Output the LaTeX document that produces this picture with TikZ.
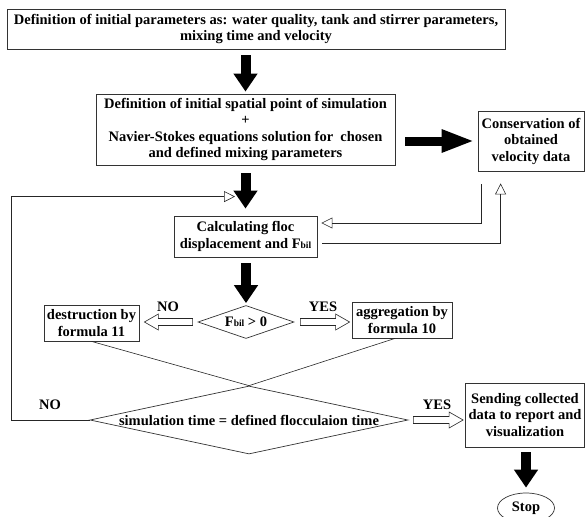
\documentclass[tikz,border=0pt]{standalone}
\usepackage{fontspec}
\setmainfont{Liberation Serif}
\usetikzlibrary{arrows.meta,shapes.geometric,calc}
\newcommand{\Fbil}{F{\fontsize{9.5}{9.5}\selectfont bil}}
% outlined block arrow between two points (horizontal)
\newcommand{\hollowarrow}[2]{%
  \draw[thinline, fill=white] let \p1=(#1), \p2=(#2), \n1={14*(\x2-\x1)/abs(\x2-\x1)} in
    (\x1,{\y1+3.5pt}) -- ({\x2-(\n1)*1pt},{\y1+3.5pt}) -- ({\x2-(\n1)*1pt},{\y1+8pt})
    -- (\x2,\y1) -- ({\x2-(\n1)*1pt},{\y1-8pt}) -- ({\x2-(\n1)*1pt},{\y1-3.5pt})
    -- (\x1,{\y1-3.5pt}) -- cycle;}
\begin{document}
\begin{tikzpicture}[x=1pt, y=-1pt,
  txt/.style={font=\bfseries\fontsize{14.5}{16.5}\selectfont},
  box/.style={txt, draw=black!80, line width=0.8pt, align=center, inner sep=0pt},
  cond/.style={txt, draw=black!80, line width=0.7pt, diamond, inner sep=-3pt},
  thinline/.style={line width=0.6pt, draw=black!85},
  opentip/.style={thinline, -{Triangle[open,length=11pt,width=11pt]}},
  bigarrow/.style={line width=10pt, -{Triangle[length=18pt,width=23pt]}},
  widearrow/.style={line width=9pt, -{Triangle[length=33pt,width=21pt]}}]
  \useasboundingbox (0,0) rectangle (585,516);
  % boxes
  \node[box, minimum width=498pt, minimum height=40pt] (top) at (256,29)
    {Definition of initial parameters as: water quality, tank and stirrer parameters,\\mixing time and velocity};
  \node[box, minimum width=299pt, minimum height=71pt] (def) at (245.5,129.5)
    {Definition of initial spatial point of simulation\\+\\Navier-Stokes equations solution for \ chosen\\and defined mixing parameters};
  \node[box, minimum width=106pt, minimum height=60pt] (cons) at (531,141)
    {Conservation of\\obtained\\velocity data};
  \node[box, minimum width=143pt, minimum height=41pt] (calc) at (245.5,236.5)
    {Calculating floc\\displacement and \Fbil};
  \node[cond, aspect=2.9, minimum width=96pt, minimum height=33pt] (dec1) at (246,322) {\Fbil{} > 0};
  \node[box, minimum width=95pt, minimum height=36pt] (des) at (91.5,323) {destruction by\\formula 11};
  \node[box, minimum width=100pt, minimum height=36pt] (agg) at (402,320) {aggregation by\\formula 10};
  \node[cond, aspect=4.68, minimum width=318pt, minimum height=68pt] (dec2) at (249,420)
    {simulation time = defined flocculaion time};
  \node[box, minimum width=119pt, minimum height=64pt] (send) at (525,415)
    {Sending collected\\data to report and\\visualization};
  \node[txt, draw=black!80, line width=0.7pt, ellipse, minimum width=57pt, minimum height=30pt] (stop) at (526,508) {Stop};
  % labels
  \node[txt] (no1) at (168,307) {NO};
  \node[txt] (yes1) at (323,307) {YES};
  \node[txt] (no2) at (50,405) {NO};
  \node[txt] (yes2) at (437,405) {YES};
  % black arrows
  \draw[bigarrow, shorten <=6pt, shorten >=2pt] (top.south -| def.north) -- (def.north);
  \draw[bigarrow, shorten <=8pt, shorten >=7pt] (def.south) -- (calc.north);
  \draw[bigarrow, shorten <=6pt, shorten >=2pt] (calc.south -| dec1.north) -- (dec1.north);
  \draw[bigarrow, shorten <=5pt, shorten >=5pt] (send.south -| stop.north) -- (stop.north);
  \draw[widearrow, shorten <=10pt, shorten >=3pt] (def.east |- cons.west) -- (cons.west);
  % thin connectors
  \coordinate (loopend) at ([xshift=-10.5pt, yshift=19pt]calc.north);
  \coordinate (consout) at ([xshift=4pt, yshift=-13pt]cons.south west);
  \coordinate (consin) at ([xshift=23pt, yshift=-12pt]cons.south west);
  \draw[opentip] (dec2.west) -- ++(-78,0) |- (loopend);
  \draw[opentip, shorten >=4pt] (consout) |- ([yshift=13.5pt]calc.east);
  \draw[opentip, shorten <=5pt] ([yshift=-6.5pt]calc.east) -| (consin);
  \draw[thinline] (des.south) -- (dec2.north);
  \draw[thinline] ([xshift=-7pt]agg.south) -- (dec2.north);
  % hollow arrows
  \hollowarrow{[xshift=-5pt]dec1.west}{[xshift=5pt]des.east}
  \hollowarrow{[xshift=6pt]dec1.east}{[xshift=-2pt]agg.west}
  \hollowarrow{[xshift=5pt]dec2.east}{[xshift=-2pt]send.west}
\end{tikzpicture}
\end{document}
